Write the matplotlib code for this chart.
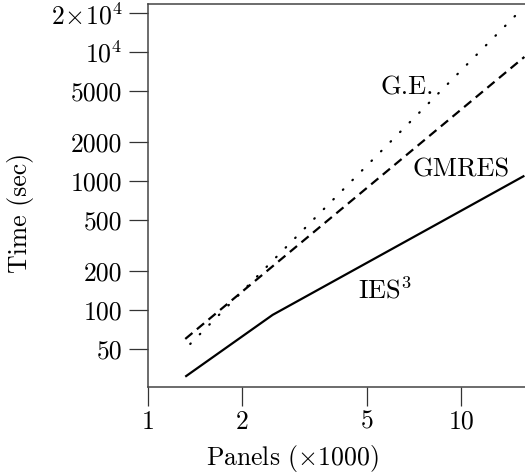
import numpy as np
import matplotlib
matplotlib.use('Agg')
import matplotlib.pyplot as plt
from matplotlib.ticker import FixedLocator, NullLocator

plt.rcParams['font.family'] = ['cmr10', 'DejaVu Serif']
plt.rcParams['mathtext.fontset'] = 'cm'
plt.rcParams['axes.unicode_minus'] = False

# panels (x1000) and run times (sec)
ies_x = [1.315, 2.50, 8.25, 15.9]
ies_y = [30.3, 91.5, 455, 1100]
gmres_x = [1.315, 15.9]
gmres_y = [59.5, 9200]
ge_x = [1.364, 15.1]
ge_y = [54.4, 19950]

xticks = [1, 2, 5, 10]
xticklabels = ['1', '2', '5', '10']
yticks = [50, 100, 200, 500, 1000, 2000, 5000, 1e4, 2e4]
yticklabels = ['50', '100', '200', '500', '1000', '2000', '5000',
               r'$10^4$', r'$2\!\times\!10^4$']

fig = plt.figure(figsize=(5.25, 4.73), dpi=100)
ax = fig.add_axes([148/525., 1-387/473., 1.01-148/525., (387-4)/473.])

ax.plot(ies_x, ies_y, color='black', lw=1.6, solid_capstyle='butt')
ax.plot(gmres_x, gmres_y, color='black', lw=1.6, linestyle=(0, (4.2, 2.6)),
        dash_capstyle='butt')
ax.plot(ge_x, ge_y, color='black', lw=1.6, linestyle=(0, (0.3, 5.8)),
        dash_capstyle='round')

ax.set_xscale('log')
ax.set_yscale('log')
ax.set_xlim(1, 16.6)
ax.set_ylim(25.2, 23700)

ax.xaxis.set_major_locator(FixedLocator(xticks))
ax.xaxis.set_minor_locator(NullLocator())
ax.set_xticklabels(xticklabels)
ax.yaxis.set_major_locator(FixedLocator(yticks))
ax.yaxis.set_minor_locator(NullLocator())
ax.set_yticklabels(yticklabels)

ax.tick_params(axis='both', direction='out', length=13.5, width=0.9,
               color='#333333', labelsize=18.5)
ax.tick_params(axis='y', pad=5)
ax.tick_params(axis='x', pad=3)

for s in ['left', 'bottom', 'top']:
    ax.spines[s].set_color('#444444')
    ax.spines[s].set_linewidth(1.1)
ax.spines['right'].set_visible(False)

ax.set_xlabel(r'Panels ($\times$1000)', fontsize=18.5)
ax.xaxis.set_label_coords(0.377, -0.145)
ax.set_ylabel('Time (sec)', fontsize=18.5)
ax.yaxis.set_label_coords(-0.297, 0.455)

ax.text(5.52, 4686, 'G.E.', fontsize=19, va='baseline', ha='left')
ax.text(7.0, 1080, 'GMRES', fontsize=19, va='baseline', ha='left')
ax.text(4.69, 121.7, r'IES$^3$', fontsize=19, va='baseline', ha='left')

fig.savefig('out.png', dpi=100)
